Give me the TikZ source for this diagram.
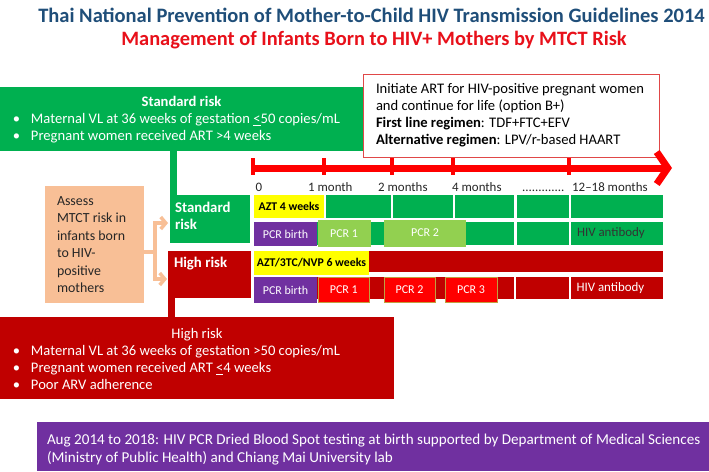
\documentclass[tikz,border=0pt]{standalone}
\usepackage{fontspec}
\setmainfont{Carlito}
\usetikzlibrary{arrows.meta,calc}
\definecolor{gr}{HTML}{00B050}
\definecolor{dr}{HTML}{C00000}
\definecolor{yl}{HTML}{FFFF00}
\definecolor{pu}{HTML}{7030A0}
\definecolor{lg}{HTML}{92D050}
\definecolor{rd}{HTML}{FF0000}
\definecolor{pe}{HTML}{F8BF96}
\definecolor{tb}{HTML}{1F4E79}
\definecolor{tr}{HTML}{E8101A}
\definecolor{ab}{HTML}{E04848}
\definecolor{ol}{HTML}{C0A040}
\newcommand{\mybul}{\makebox[31pt][l]{\hspace*{13pt}\textbullet}}
\begin{document}
\begin{tikzpicture}[x=1pt,y=-1pt,
  blk/.style={inner sep=0pt, outer sep=0pt, anchor=north west},
  f12/.style={font=\fontsize{12}{14}\selectfont},
  f12b/.style={font=\fontsize{11.8}{13}\selectfont\bfseries},
  f13/.style={font=\fontsize{12.9}{14}\selectfont},
  lbl/.style={anchor=base west, inner sep=0pt, f13, text=black!85},
  pcrred/.style={blk, fill=rd, draw=ol, line width=0.6pt, text=white, f12},
  pcrgreen/.style={blk, fill=lg, text=white, f12},
  pcrbirth/.style={blk, fill=pu, text=white, f12},
  gseg/.style={blk, fill=gr},
  rseg/.style={blk, fill=dr}
]
\useasboundingbox (0,0) rectangle (709,471);
\fill[white] (0,0) rectangle (709,471);

% titles
\node[font=\fontsize{20.5}{23}\selectfont\bfseries, text=tb, inner sep=0pt] (t1) at (371.5,15) {Thai National Prevention of Mother-to-Child HIV Transmission Guidelines 2014};
\node[font=\fontsize{20.4}{23}\selectfont\bfseries, text=tr, inner sep=0pt] (t2) at (374,40) {Management of Infants Born to HIV+ Mothers by MTCT Risk};

% standard risk box
\node[blk, fill=gr, text=white, minimum width=363pt, minimum height=64pt, font=\fontsize{14.6}{17}\selectfont] (stdbox) at (0,87)
 {\parbox[c][64pt][c]{363pt}{\vspace*{2pt}\centering\textbf{Standard risk}\par\raggedright\mybul Maternal VL at 36 weeks of gestation \underline{<}50 copies/mL\par\mybul Pregnant women received ART >4 weeks}};

% ART box
\node[blk, draw=ab, line width=1pt, fill=white, minimum width=296pt, minimum height=83pt, font=\fontsize{14.6}{17}\selectfont] (art) at (363,74)
 {\parbox{296pt}{\leftskip=13pt Initiate ART for HIV-positive pregnant women\\ and continue for life (option B+)\\ \textbf{First line regimen}: TDF+FTC+EFV\\ \textbf{Alternative regimen}: LPV/r-based HAART}};

% timeline
\coordinate (tl0) at (253,168);
\coordinate (tl1) at (672,168);
\draw[rd, line width=7pt, -{Straight Barb[length=11pt, width=32pt]}] (tl0) -- (tl1);
\foreach \x in {253,324,392,453,569} \draw[rd, line width=4pt] (\x,158) -- (\x,175);

\node[lbl] (m0) at (255.5,191) {0};
\node[lbl] (m1) at (308,191) {1 month};
\node[lbl] (m2) at (378,191) {2 months};
\node[lbl] (m4) at (452,191) {4 months};
\node[lbl] (md) at (522,191) {.............};
\node[lbl] (m12) at (572,191) {12–18 months};

% standard row 1
\node[blk, fill=yl, minimum width=70pt, minimum height=23pt, f12b] (azt) at (254,195) {AZT 4 weeks};
\node[gseg, minimum width=65pt, minimum height=23pt] (s1a) at (326,195) {};
\node[gseg, minimum width=60pt, minimum height=23pt] (s1b) at (392.5,195) {};
\node[gseg, minimum width=59pt, minimum height=23pt] (s1c) at (455,195) {};
\node[gseg, minimum width=52pt, minimum height=23pt] (s1d) at (516.5,195) {};
\node[gseg, minimum width=92pt, minimum height=23pt] (s1e) at (571,195) {};

% standard row 2
\node[gseg, minimum width=74pt, minimum height=23pt] (s2a) at (317,222) {};
\node[gseg, minimum width=60pt, minimum height=23pt] (s2b) at (392.5,222) {};
\node[gseg, minimum width=59pt, minimum height=23pt] (s2c) at (455,222) {};
\node[gseg, minimum width=52pt, minimum height=23pt] (s2d) at (516.5,222) {};
\node[gseg, minimum width=92pt, minimum height=23pt, text=black!80, f13] (s2e) at (571,222) {\makebox[92pt][l]{\hspace*{6pt}HIV antibody}};
\node[pcrbirth, minimum width=63pt, minimum height=24pt] (spb) at (254,222) {PCR birth};
\node[pcrgreen, minimum width=53pt, minimum height=27pt] (sp1) at (317.5,220) {PCR 1};
\node[pcrgreen, minimum width=82pt, minimum height=27pt] (sp2) at (384,219.5) {PCR 2};

% high row 1
\node[rseg, minimum width=409pt, minimum height=21pt] (h1) at (254,251) {};
\node[blk, fill=yl, minimum width=115pt, minimum height=24pt, f12b] (nvp) at (254,251) {AZT/3TC/NVP 6 weeks};

% high row 2
\node[rseg, minimum width=196.5pt, minimum height=22pt] (h2a) at (317,277) {};
\node[rseg, minimum width=52.5pt, minimum height=22pt] (h2b) at (516,277) {};
\node[rseg, minimum width=92.5pt, minimum height=22pt, text=white, f13] (h2c) at (570.5,277) {\makebox[92.5pt][l]{\hspace*{6pt}HIV antibody}};
\node[pcrbirth, minimum width=63pt, minimum height=26pt] (hpb) at (254,277) {PCR birth};
\node[pcrred, minimum width=51pt, minimum height=25pt] (hp1) at (318.3,277.3) {PCR 1};
\node[pcrred, minimum width=51pt, minimum height=25pt] (hp2) at (384,277.3) {PCR 2};
\node[pcrred, minimum width=52pt, minimum height=25pt] (hp3) at (445,277.3) {PCR 3};

% assess box
\node[blk, fill=pe, minimum width=99pt, minimum height=117pt, font=\fontsize{13.9}{17.5}\selectfont, text=black!85] (assess) at (45,186)
 {\parbox{99pt}{\leftskip=12pt Assess\\ MTCT risk in\\ infants born\\ to HIV-\\ positive\\ mothers}};

% high risk big box
\node[blk, fill=dr, text=white, minimum width=394pt, minimum height=82pt, font=\fontsize{14.6}{17}\selectfont] (hibox) at (0,317)
 {\parbox[c][82pt][c]{394pt}{\vspace*{2pt}\centering High risk\par\raggedright\mybul Maternal VL at 36 weeks of gestation >50 copies/mL\par\mybul Pregnant women received ART \underline{<}4 weeks\par\mybul Poor ARV adherence}};

% small risk boxes and connectors
\node[blk, fill=gr, text=white, minimum width=80pt, minimum height=48pt, font=\fontsize{14.8}{17}\selectfont\bfseries] (stdsm) at (170,195)
 {\parbox[c][48pt][t]{80pt}{\vspace*{7pt}\leftskip=5pt Standard\\ risk}};
\node[blk, fill=dr, text=white, minimum width=83pt, minimum height=47pt, font=\fontsize{14.8}{17}\selectfont\bfseries] (highsm) at (168,251)
 {\parbox[c][47pt][t]{83pt}{\vspace*{6pt}\leftskip=6pt High risk}};

\coordinate (gc) at ($(stdsm.north west)+(3.5,0)$);
\draw[gr, line width=7pt] (gc) -- (gc |- stdbox.south);
\coordinate (rc) at ($(highsm.south west)+(3.5,0)$);
\draw[dr, line width=7pt] (rc) -- (rc |- hibox.north);

\coordinate (fk0) at ($(assess.east)+(0,7.5)$);
\coordinate (fk) at ($(fk0)+(11,0)$);
\draw[pe, line width=3.5pt] (fk0) -- (fk);
\draw[pe, line width=3.5pt, -{Straight Barb[length=5pt,width=12pt]}] (fk) |- ($(stdsm.west)+(-2,4)$);
\draw[pe, line width=3.5pt, -{Straight Barb[length=5pt,width=12pt]}] (fk) |- ($(highsm.west)+(-1,4.5)$);

% note
\node[blk, fill=pu, text=white, minimum width=672pt, minimum height=49pt, font=\fontsize{15.1}{18}\selectfont] (note) at (37,422)
 {\parbox[c][49pt][c]{672pt}{\vspace*{6pt}\leftskip=10pt Aug 2014 to 2018: HIV PCR Dried Blood Spot testing at birth supported by Department of Medical Sciences\\ (Ministry of Public Health) and Chiang Mai University lab}};
\end{tikzpicture}
\end{document}
